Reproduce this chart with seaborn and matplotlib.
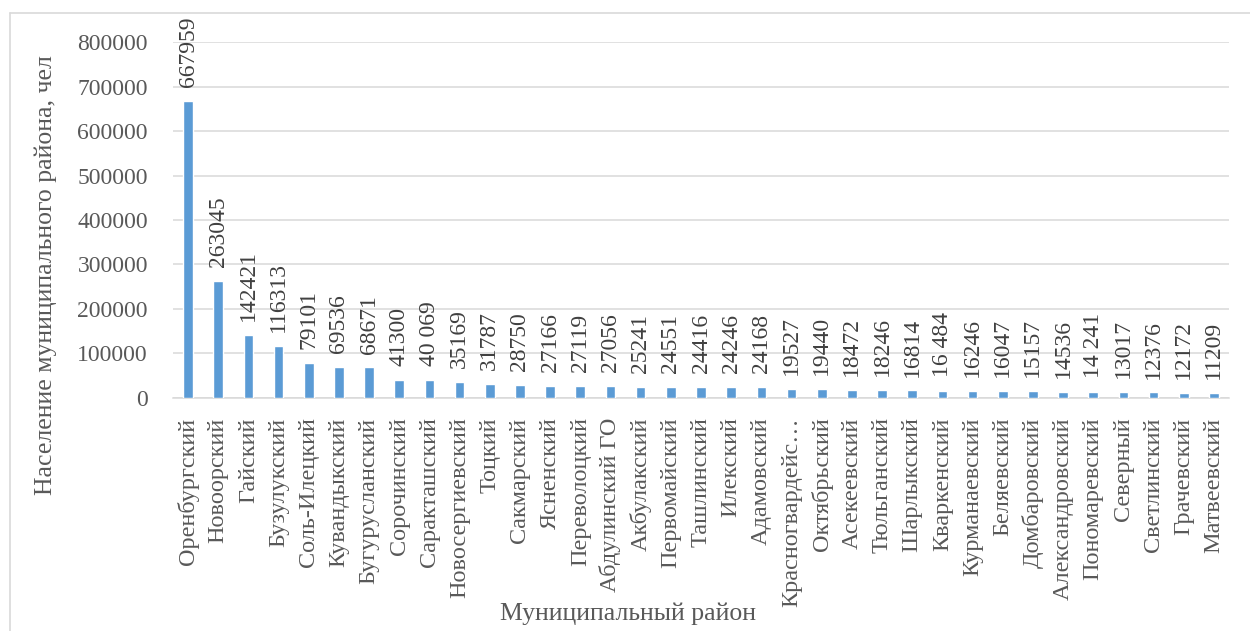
import matplotlib
matplotlib.use("Agg")
import matplotlib.pyplot as plt
from matplotlib.lines import Line2D
from matplotlib.ticker import FuncFormatter
import seaborn as sns
import pandas as pd

# Municipal districts and their population, persons
districts = [
    "Оренбургский", "Новоорский", "Гайский", "Бузулукский", "Соль-Илецкий",
    "Кувандыкский", "Бугурусланский", "Сорочинский", "Саракташский",
    "Новосергиевский", "Тоцкий", "Сакмарский", "Ясненский", "Переволоцкий",
    "Абдулинский ГО", "Акбулакский", "Первомайский", "Ташлинский", "Илекский",
    "Адамовский", "Красногвардейс…", "Октябрьский", "Асекеевский",
    "Тюльганский", "Шарлыкский", "Кваркенский", "Курманаевский", "Беляевский",
    "Домбаровский", "Александровский", "Пономаревский", "Северный",
    "Светлинский", "Грачевский", "Матвеевский",
]
population = [
    667959, 263045, 142421, 116313, 79101,
    69536, 68671, 41300, 40069,
    35169, 31787, 28750, 27166, 27119,
    27056, 25241, 24551, 24416, 24246,
    24168, 19527, 19440, 18472,
    18246, 16814, 16484, 16246, 16047,
    15157, 14536, 14241, 13017,
    12376, 12172, 11209,
]
# Values whose labels are written with a digit-group space
grouped_labels = ["Саракташский", "Кваркенский", "Пономаревский"]

y_ticks = [0, 100000, 200000, 300000, 400000, 500000, 600000, 700000, 800000]

df = pd.DataFrame({"district": districts, "population": population})

sns.set_theme(style="white")
plt.rcParams["font.family"] = ["Liberation Serif", "DejaVu Serif"]

BAR = "#5b9bd5"
GRID = "#d9d9d9"
TICK = "#595959"
LABEL = "#404040"

fig = plt.figure(figsize=(12.5, 6.31), dpi=100)
ax = fig.add_axes([0.1384, 0.3693, 0.8448, 0.5641])

sns.barplot(data=df, x="district", y="population", color=BAR,
            width=0.32, saturation=1, ax=ax, zorder=3)

ax.set_xlim(-0.5, len(districts) - 0.5)
ax.set_ylim(0, 800000)
ax.set_yticks(y_ticks)
ax.yaxis.set_major_formatter(FuncFormatter(lambda v, _: f"{int(v)}"))
ax.grid(axis="y", color=GRID, linewidth=1.1, zorder=0)
ax.grid(axis="x", visible=False)
for side in ("left", "right", "top"):
    ax.spines[side].set_visible(False)
ax.spines["bottom"].set_color(GRID)
ax.spines["bottom"].set_linewidth(1.1)

ax.tick_params(axis="y", length=0, pad=18, labelsize=17, labelcolor=TICK)
ax.tick_params(axis="x", length=0, pad=14, labelsize=17.5, labelcolor=TICK,
               labelrotation=90)
for lbl in ax.get_xticklabels():
    lbl.set_va("top")
    lbl.set_ha("center")

ax.set_xlabel("")
ax.set_ylabel("")

# Value labels above each bar
for i, (name, val) in enumerate(zip(districts, population)):
    text = f"{val:,}".replace(",", " ") if name in grouped_labels else str(val)
    ax.annotate(text, xy=(i, val), xytext=(0, 10), textcoords="offset points",
                rotation=90, ha="center", va="bottom", fontsize=17,
                color=LABEL, zorder=4)

fig.text(0.5024, 0.028, "Муниципальный район", ha="center", va="center",
         fontsize=18.5, color=TICK)
fig.text(0.0368, 0.564, "Население муниципального района, чел",
         ha="center", va="center", rotation=90, fontsize=18.5, color=TICK)

# Chart-area frame (left and top edges)
fig.add_artist(Line2D([10 / 1250, 10 / 1250], [0, 1 - 13 / 631],
                      transform=fig.transFigure, color=GRID, linewidth=1.2))
fig.add_artist(Line2D([10 / 1250, 1.0], [1 - 13 / 631, 1 - 13 / 631],
                      transform=fig.transFigure, color=GRID, linewidth=1.2))

fig.savefig("out.png", dpi=100, facecolor="white")
